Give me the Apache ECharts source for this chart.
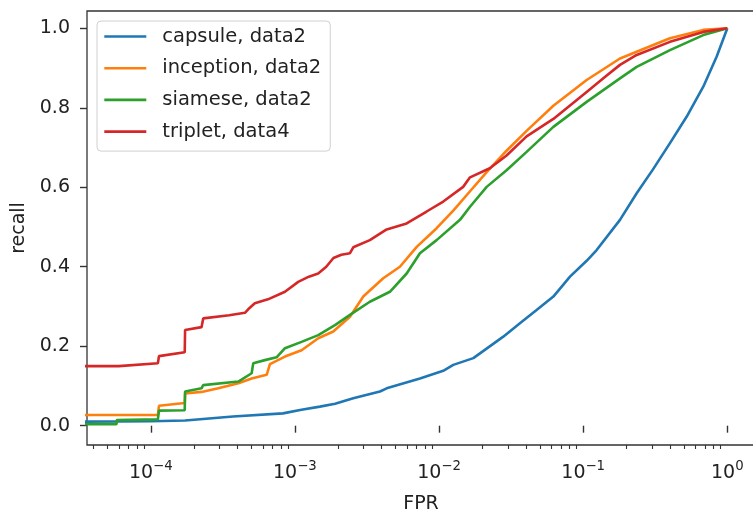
<!DOCTYPE html>
<html>
<head>
<meta charset="utf-8">
<script src="https://cdn.jsdelivr.net/npm/echarts@6/dist/echarts.min.js"></script>
<style>
  html, body { margin: 0; padding: 0; background: #fff; }
  #chart { width: 753px; height: 516px; }
</style>
</head>
<body>
<div id="chart"></div>
<script>
// tick values and labels
const fprTicks = [1e-4, 1e-3, 1e-2, 1e-1, 1];
const fprTickExp = ['\u22124', '\u22123', '\u22122', '\u22121', '0'];
const recallTicks = [0, 0.2, 0.4, 0.6, 0.8, 1.0];

// minor ticks of the log axis: 2..9 x 10^k
const fprMinorTicks = [];
for (let k = -5; k <= 0; k++) {
    for (let m = 2; m <= 9; m++) fprMinorTicks.push(m * Math.pow(10, k));
}

const seriesNames = ['capsule, data2', 'inception, data2', 'siamese, data2', 'triplet, data4'];
const seriesColors = ['#1f77b4', '#ff7f0e', '#2ca02c', '#d62728'];

// capsule
const capsuleFpr = [3e-5, 1.0e-4, 1.73e-4, 3.72e-4, 8.26e-4, 1.11e-3, 1.49e-3, 1.9e-3, 2.54e-3, 3.89e-3, 4.33e-3,
    7.37e-3, 1.069e-2, 1.255e-2, 1.73e-2, 2.79e-2, 3.64e-2, 4.75e-2, 6.21e-2, 8.10e-2, 0.1057, 0.124, 0.180,
    0.235, 0.305, 0.400, 0.523, 0.681, 0.844, 1.0];
const capsuleRecall = [0.010, 0.011, 0.013, 0.023, 0.031, 0.040, 0.048, 0.055, 0.069, 0.086, 0.094,
    0.119, 0.138, 0.153, 0.170, 0.224, 0.258, 0.291, 0.325, 0.375, 0.415, 0.442, 0.518,
    0.585, 0.645, 0.711, 0.778, 0.853, 0.929, 1.0];

// inception
const inceptionFpr = [3e-5, 1.12e-4, 1.14e-4, 1.72e-4, 1.73e-4, 2.25e-4, 2.94e-4, 4.05e-4, 5.01e-4, 6.37e-4,
    6.71e-4, 8.53e-4, 1.112e-3, 1.452e-3, 1.845e-3, 2.41e-3, 2.98e-3, 4.10e-3, 5.35e-3, 7.00e-3, 9.62e-3,
    1.255e-2, 1.64e-2, 2.14e-2, 2.94e-2, 4.05e-2, 6.21e-2, 0.1057, 0.180, 0.400, 0.681, 1.0];
const inceptionRecall = [0.027, 0.027, 0.050, 0.057, 0.081, 0.085, 0.094, 0.107, 0.119, 0.128,
    0.155, 0.174, 0.190, 0.220, 0.237, 0.274, 0.325, 0.371, 0.400, 0.450, 0.497,
    0.541, 0.590, 0.638, 0.692, 0.742, 0.805, 0.870, 0.924, 0.975, 0.996, 1.0];

// siamese
const siameseFpr = [3e-5, 5.79e-5, 5.8e-5, 1.12e-4, 1.14e-4, 1.72e-4, 1.73e-4, 2.25e-4, 2.31e-4, 4.05e-4,
    5.01e-4, 5.14e-4, 6.19e-4, 7.46e-4, 8.53e-4, 1.112e-3, 1.452e-3, 1.896e-3, 2.41e-3, 3.31e-3, 4.56e-3,
    5.96e-3, 7.37e-3, 9.62e-3, 1.397e-2, 1.64e-2, 2.14e-2, 2.94e-2, 4.05e-2, 6.21e-2, 0.1057, 0.180,
    0.235, 0.400, 0.681, 1.0];
const siameseRecall = [0.004, 0.004, 0.014, 0.016, 0.038, 0.039, 0.086, 0.094, 0.102, 0.111,
    0.132, 0.157, 0.165, 0.172, 0.195, 0.211, 0.228, 0.253, 0.279, 0.312, 0.337,
    0.383, 0.434, 0.467, 0.518, 0.551, 0.601, 0.643, 0.689, 0.752, 0.815, 0.874,
    0.903, 0.945, 0.983, 1.0];

// triplet
const tripletFpr = [3e-5, 6.0e-5, 1.12e-4, 1.14e-4, 1.72e-4, 1.73e-4, 2.25e-4, 2.31e-4, 3.5e-4, 4.5e-4,
    4.74e-4, 5.27e-4, 6.5e-4, 8.53e-4, 1.054e-3, 1.25e-3, 1.45e-3, 1.65e-3, 1.85e-3, 2.1e-3, 2.41e-3,
    2.54e-3, 3.31e-3, 4.33e-3, 5.96e-3, 8.20e-3, 1.069e-2, 1.47e-2, 1.64e-2, 2.25e-2, 2.94e-2, 4.05e-2,
    6.21e-2, 0.1057, 0.140, 0.180, 0.235, 0.400, 0.681, 1.0];
const tripletRecall = [0.150, 0.150, 0.157, 0.175, 0.185, 0.241, 0.248, 0.270, 0.278, 0.284,
    0.293, 0.308, 0.318, 0.337, 0.362, 0.375, 0.383, 0.400, 0.422, 0.430, 0.434,
    0.449, 0.467, 0.494, 0.509, 0.539, 0.564, 0.601, 0.625, 0.648, 0.680, 0.728,
    0.772, 0.840, 0.876, 0.908, 0.933, 0.966, 0.991, 1.0];

const allFpr = [capsuleFpr, inceptionFpr, siameseFpr, tripletFpr];
const allRecall = [capsuleRecall, inceptionRecall, siameseRecall, tripletRecall];

const FONT = 'DejaVu Sans';
const TXT = '#222';
const X_MIN = 3.61e-5, X_MAX = 1.556;

var chart = echarts.init(document.getElementById('chart'));

var option = {
    animation: false,
    backgroundColor: '#fff',
    textStyle: { fontFamily: FONT },
    grid: {
        left: 87, top: 11, right: -2, bottom: 71,
        show: true, borderColor: '#333', borderWidth: 1.3,
        outerBoundsMode: 'none'
    },
    legend: {
        left: 97, top: 21,
        orient: 'vertical',
        data: seriesNames,
        itemWidth: 42, itemHeight: 19, itemGap: 11.7,
        padding: [5.5, 9, 9.5, 6],
        itemStyle: { opacity: 0 },
        lineStyle: { width: 2.6 },
        backgroundColor: 'rgba(255,255,255,0.8)',
        borderColor: '#d0d0d0', borderWidth: 1, borderRadius: 4,
        textStyle: { fontFamily: FONT, fontSize: 19.5, color: TXT, padding: [0, 0, 0, 11] }
    },
    xAxis: [
        {
            type: 'log', logBase: 10, min: X_MIN, max: X_MAX,
            position: 'bottom',
            name: 'FPR', nameLocation: 'middle', nameGap: 50,
            nameTextStyle: { fontFamily: FONT, fontSize: 19, color: TXT },
            axisLine: { show: false },
            splitLine: { show: false },
            axisTick: { show: true, customValues: fprTicks, length: 7, lineStyle: { color: '#333', width: 1.4 } },
            axisLabel: {
                customValues: fprTicks, margin: 15,
                formatter: function (v) {
                    const i = fprTicks.findIndex(t => Math.abs(Math.log10(t) - Math.log10(v)) < 1e-6);
                    return '{b|10}{s|' + (i >= 0 ? fprTickExp[i] : '') + '}';
                },
                rich: {
                    b: { fontFamily: FONT, fontSize: 19, lineHeight: 26, color: TXT },
                    s: { fontFamily: FONT, fontSize: 13.3, lineHeight: 12, verticalAlign: 'top', color: TXT }
                }
            }
        },
        {
            type: 'log', logBase: 10, min: X_MIN, max: X_MAX,
            position: 'bottom',
            axisLine: { show: false },
            splitLine: { show: false },
            axisLabel: { show: false },
            axisTick: { show: true, customValues: fprMinorTicks, length: 4, lineStyle: { color: '#333', width: 1.1 } }
        }
    ],
    yAxis: {
        type: 'value', min: -0.0486, max: 1.0436,
        name: 'recall', nameLocation: 'middle', nameGap: 51,
        nameTextStyle: { fontFamily: FONT, fontSize: 19, color: TXT },
        axisLine: { show: false },
        splitLine: { show: false },
        axisTick: { show: true, customValues: recallTicks, length: 7, lineStyle: { color: '#333', width: 1.4 } },
        axisLabel: {
            customValues: recallTicks, margin: 17,
            fontFamily: FONT, fontSize: 19, color: TXT,
            formatter: v => v.toFixed(1)
        }
    },
    series: seriesNames.map((name, i) => ({
        name: name,
        type: 'line',
        xAxisIndex: 0,
        symbol: 'none',
        clip: true,
        color: seriesColors[i],
        lineStyle: { width: 2.6, color: seriesColors[i] },
        data: allFpr[i].map((f, j) => [f, allRecall[i][j]])
    }))
};

option && chart.setOption(option);
</script>
</body>
</html>
